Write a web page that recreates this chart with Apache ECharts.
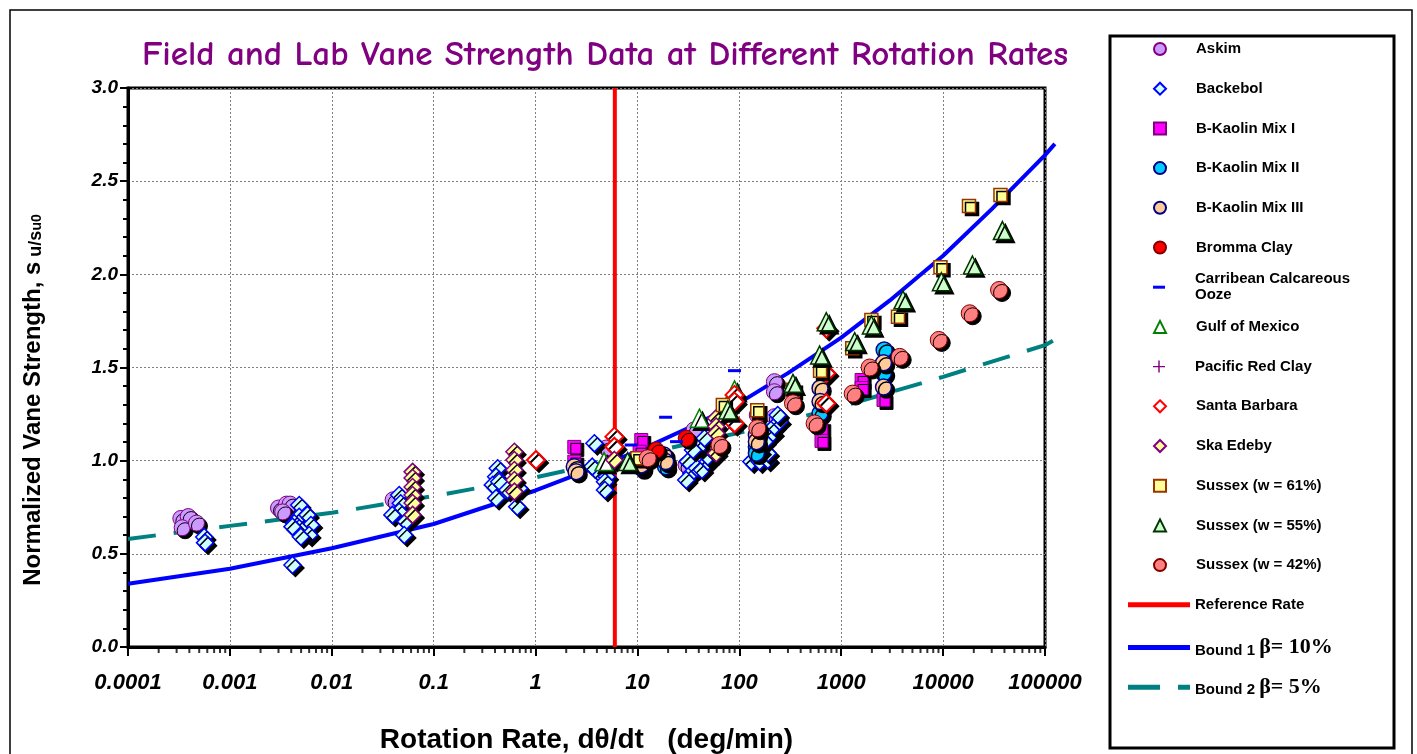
<!DOCTYPE html>
<html><head><meta charset="utf-8">
<script src="https://cdn.jsdelivr.net/npm/echarts@6.0.0/dist/echarts.min.js"></script>
<style>html,body{margin:0;padding:0;background:#fff}#c{width:1417px;height:754px}</style>
</head><body><div id="c"></div>
<script>
// ---------- tick labels ----------
const xTickLabels = ['0.0001','0.001','0.01','0.1','1','10','100','1000','10000','100000'];
const xDecades = [0.0001,0.001,0.01,0.1,1,10,100,1000,10000];
const xMinorMultipliers = [2,3,4,5,6,7,8,9];

// ---------- data: [rotation rate (deg/min), su/su0] ----------
const askim = [[0.00033,0.69],[0.00039,0.70],[0.00034,0.64],[0.00047,0.665],
  [0.0030,0.746],[0.0036,0.767],[0.0039,0.767],[0.0033,0.725],[0.040,0.79],
  [4.95,1.068],[36,1.165],[30,0.977],[221,1.424],[221,1.37],[150,1.245],[221,1.236]];
const backebol = [[0.00056,0.59],[0.00057,0.56],
  [0.00479,0.762],[0.00479,0.699],[0.00577,0.709],[0.00428,0.664],[0.00624,0.655],[0.00479,0.637],[0.00411,0.646],[0.0060,0.601],[0.00497,0.592],[0.00411,0.44],
  [0.0459,0.816],[0.0475,0.771],[0.0459,0.726],[0.0393,0.709],[0.0532,0.673],[0.0514,0.601],
  [0.425,0.959],[0.41,0.914],[0.38,0.87],[0.44,0.887],[0.41,0.798],[0.53,0.843],[0.69,0.852],[0.66,0.753],
  [3.78,1.093],[3.6,0.968],[4.4,0.923],[5.0,0.914],[4.8,0.887],[4.8,0.843],
  [31.2,0.995],[33.8,0.932],[30.1,0.896],[38.3,0.959],[42.9,0.95],[49,0.995],[49,1.021],[51,1.067],[40.5,1.075],[45.5,1.12],[35.1,1.057],
  [131,0.995],[158,0.995],[190,1.004],[190,1.04],[212,1.147],[221,1.183],[248,1.21],[238,1.245],[177,1.102],[158,1.048]];
const kaolin1 = [[2.4,1.074],[2.4,0.995],[10.9,1.111],[10.5,1.048],[637,1.174],[640,1.106],[1585,1.433],[1585,1.39],[2600,1.326]];
const kaolin2 = [[11,0.96],[18.9,0.968],[147,1.075],[147,1.04],[620,1.254],[2640,1.594],[2600,1.47]];
const kaolin3 = [[2.4,0.968],[2.5,0.941],[10.9,0.977],[18.2,1.03],[18.9,0.995],[147,1.138],[147,1.102],[620,1.389],[620,1.317],[2600,1.525],[2600,1.395]];
const bromma = [[15.3,1.057],[30.1,1.12]];
const carribean = [[8.67,1.084],[18.9,1.233],[24.2,1.102],[89.7,1.483]];
const gulf = [[4.7,0.995],[40.6,1.228],[89.7,1.38]];
const pacific = [[89.7,1.174]];
const santaBarbara = [[1.01,1.004],[5.94,1.129],[5.94,1.075],[89.7,1.353],[89.7,1.317],[89.7,1.201],[713,1.71],[713,1.469],[713,1.308]];
const skaEdeby = [[0.0621,0.94],[0.0621,0.907],[0.0621,0.859],[0.0621,0.816],[0.0621,0.773],[0.0621,0.709],
  [0.62,1.048],[0.62,1.004],[0.62,0.95],[0.62,0.896],[0.62,0.834],[5.94,1.004],
  [59.3,1.228],[59.3,1.183],[59.3,1.147],[59.3,1.04]];
const sussex61 = [[10,1.013],[68.9,1.299],[150,1.27],[336,1.38],[620,1.483],[1283,1.603],[1977,1.755],[3606,1.773],[9420,2.038],[17950,2.367],[36560,2.426]];
const sussex55 = [[8.0,0.995],[77,1.272],[336,1.415],[614,1.567],[713,1.746],[1355,1.639],[1977,1.728],[4036,1.863],[9620,1.96],[19400,2.05],[38200,2.235]];
const sussex42 = [[12.6,1.013],[63.8,1.084],[150,1.174],[336,1.308],[548,1.20],[1295,1.36],[1900,1.50],[3750,1.557],[9060,1.648],[18240,1.791],[35400,1.916]];

// reference rate and bounds
const refRateX = [6, 6];
const refRateY = [0, 3];
const bound1X = [0.0001,0.001,0.01,0.1,1,10,30,100,300,1000,3000,10000,30000,100000,125000];
const bound1Y = [0.34,0.42,0.53,0.66,0.84,1.05,1.17,1.31,1.47,1.66,1.86,2.10,2.35,2.64,2.70];
const bound2X = [0.0001,0.001,0.01,0.1,1,10,100,1000,10000,100000,125000];
const bound2Y = [0.58,0.65,0.72,0.81,0.91,1.03,1.15,1.29,1.45,1.62,1.65];

const legendNames = ['Askim','Backebol','B-Kaolin Mix I','B-Kaolin Mix II','B-Kaolin Mix III','Bromma Clay',
  'Carribean Calcareous Ooze','Gulf of Mexico','Pacific Red Clay','Santa Barbara','Ska Edeby',
  'Sussex (w = 61%)','Sussex (w = 55%)','Sussex (w = 42%)','Reference Rate','Bound 1','Bound 2'];

// ---------- build ----------
const zip = (xs, ys) => xs.map((x, i) => [x, ys[i]]);
const ARIAL = '"Liberation Sans", Arial, sans-serif';
const SHADOW = {shadowColor:'#000', shadowOffsetX:3, shadowOffsetY:3, shadowBlur:0};
const PLUS = 'path://M4.4,0H5.6V4.4H10V5.6H5.6V10H4.4V5.6H0V4.4H4.4Z';

// the bound curves run a little past the last axis label (as in the original); they use a twin
// log axis whose extent reaches the last curve point, with the same px-per-decade as the main one
const X_MIN = 0.0001, X_MAX = 100000;
const X_EXT = Math.max(bound1X[bound1X.length - 1], bound2X[bound2X.length - 1]);
const PLOT_L = 128, PLOT_R = 1045;
const extPx = (PLOT_R - PLOT_L) * Math.log10(X_EXT / X_MIN) / Math.log10(X_MAX / X_MIN);

function sc(name, data, symbol, size, fill, stroke, bw, shadow) {
  return {name, type:'scatter', data, symbol, symbolSize:size, z:3, clip:false,
    itemStyle:Object.assign({color:fill, borderColor:stroke, borderWidth:bw, opacity:1}, shadow === false ? {} : SHADOW),
    emphasis:{disabled:true}};
}
function ln(name, data, color, dash, idx) {
  return {name, type:'line', data, symbol:'none', showSymbol:false, z:2, clip:false, color,
    xAxisIndex:idx || 0, yAxisIndex:idx || 0,
    lineStyle:{color, width:4, type: dash || 'solid', cap:'butt'}, emphasis:{disabled:true}, smooth:false};
}

const minorTickData = [];
xDecades.forEach(d => xMinorMultipliers.forEach(m => minorTickData.push([d * m, 0])));

const series = [
  sc('Askim', askim, 'circle', 16, '#cc99ff', '#800080', 1),
  sc('Backebol', backebol, 'diamond', 17, '#ccffff', '#0000ff', 1.5),
  sc('B-Kaolin Mix I', kaolin1, 'rect', 13, '#ff00ff', '#800080', 1),
  sc('B-Kaolin Mix II', kaolin2, 'circle', 16, '#00ccff', '#000080', 1.5),
  sc('B-Kaolin Mix III', kaolin3, 'circle', 16, '#ffcc99', '#000080', 1.5),
  sc('Bromma Clay', bromma, 'circle', 16, '#ff0000', '#800000', 1),
  sc('Carribean Calcareous Ooze', carribean, 'rect', [13,3], '#0000ff', '#0000ff', 0, false),
  sc('Gulf of Mexico', gulf, 'triangle', 18, '#ffffff', '#008000', 1.5),
  sc('Pacific Red Clay', pacific, PLUS, 13, '#800080', '#800080', 0, false),
  sc('Santa Barbara', santaBarbara, 'diamond', 18, '#ffffff', '#ff0000', 2),
  sc('Ska Edeby', skaEdeby, 'diamond', 17, '#ffff99', '#800080', 1.5),
  sc('Sussex (w = 61%)', sussex61, 'rect', 13, '#ffff99', '#993300', 1.5),
  sc('Sussex (w = 55%)', sussex55, 'triangle', 18, '#ccffcc', '#003300', 1.5),
  sc('Sussex (w = 42%)', sussex42, 'circle', 17, '#ff8080', '#800000', 1),
  ln('Reference Rate', zip(refRateX, refRateY), '#ff0000'),
  ln('Bound 1', zip(bound1X, bound1Y), '#0000ff', null, 1),
  ln('Bound 2', zip(bound2X, bound2Y), '#008080', [28, 18], 1),
  {name:'__minor', type:'scatter', data:minorTickData, symbol:'rect', symbolSize:[2,6], symbolOffset:[0,3],
   itemStyle:{color:'#000'}, silent:true, z:5, clip:false, emphasis:{disabled:true}}
];

const ROW0 = 49, ROWSTEP = 39.7;
const baseText = {fontFamily:ARIAL, fontWeight:'bold', fontSize:15, color:'#000', lineHeight:16};
const legends = legendNames.map((n, i) => {
  const cy = ROW0 + i * ROWSTEP;
  const L = {show:true, data:[n], orient:'vertical', padding:0, selectedMode:false,
    itemStyle:{shadowBlur:0, shadowOffsetX:0, shadowOffsetY:0, shadowColor:'rgba(0,0,0,0)'},
    textStyle:Object.assign({}, baseText)};
  if (i < 14) {
    L.left = 1153; L.top = cy - 8; L.itemWidth = 12; L.itemHeight = 12;
    L.textStyle.padding = [0,0,0,25];
    if (n === 'Carribean Calcareous Ooze') {
      L.itemHeight = 3;
      L.symbolKeepAspect = false;
      L.data = [{name:n, icon:'rect'}];
      L.formatter = 'Carribean Calcareous\nOoze';
      L.textStyle.padding = [16,0,0,25];
      L.top = cy - 24;
    }
    if (n === 'Pacific Red Clay') { L.itemStyle.borderWidth = 0; }
  } else {
    L.left = 1128; L.top = cy - 8; L.itemWidth = 62; L.itemHeight = 5;
    L.symbolKeepAspect = false;
    L.itemStyle.borderWidth = 0;
    L.data = [{name:n, icon: n === 'Bound 2' ? 'path://M0,0H32V5H0ZM50,0H62V5H50Z' : 'rect'}];
    if (n !== 'Reference Rate') {
      const beta = n === 'Bound 1' ? 'β= 10%' : 'β= 5%';
      L.formatter = '{a|' + n + '} {b|' + beta + '}';
      L.textStyle.rich = {
        a:{fontFamily:ARIAL, fontWeight:'bold', fontSize:15, color:'#000', lineHeight:16, padding:[6,0,0,0]},
        b:{fontFamily:'"Liberation Serif", "Times New Roman", serif', fontSize:22, color:'#000', lineHeight:16}
      };
    }
  }
  return L;
});

const option = {
  animation:false,
  backgroundColor:'#ffffff',
  grid:[
    {left:PLOT_L, right:1417 - PLOT_R, top:88, bottom:107, show:true, borderColor:'#000', borderWidth:3,
     backgroundColor:'#fff', containLabel:false, outerBoundsMode:'none'},
    {left:PLOT_L, width:extPx, top:88, bottom:107, show:false, containLabel:false, outerBoundsMode:'none'}
  ],
  xAxis:[{type:'log', logBase:10, min:X_MIN, max:X_MAX, splitNumber:9,
    axisLine:{show:true, onZero:false, lineStyle:{color:'#000', width:3}},
    axisTick:{show:true, length:9, lineStyle:{color:'#000', width:2}},
    minorTick:{show:false},
    splitLine:{show:true, lineStyle:{color:'#7f7f7f', type:[2,2], width:1}},
    axisLabel:{formatter:v => xTickLabels[Math.round(Math.log10(v)) + 4], fontFamily:ARIAL, fontStyle:'italic',
      fontWeight:'bold', fontSize:22, color:'#000', margin:25, showMinLabel:true, showMaxLabel:true, hideOverlap:false},
    name:'Rotation Rate, dθ/dt   (deg/min)', nameLocation:'middle', nameGap:79,
    nameTextStyle:{fontFamily:ARIAL, fontWeight:'bold', fontSize:28, color:'#000'}},
    {type:'log', logBase:10, gridIndex:1, min:X_MIN, max:X_EXT, show:false,
     axisLine:{show:false}, axisTick:{show:false}, axisLabel:{show:false}, splitLine:{show:false}}],
  yAxis:[{type:'value', min:0, max:3, interval:0.5,
    axisLine:{show:true, lineStyle:{color:'#000', width:3}},
    axisTick:{show:true, length:8, lineStyle:{color:'#000', width:2}},
    minorTick:{show:true, splitNumber:5, length:5, lineStyle:{color:'#000', width:2}},
    splitLine:{show:true, lineStyle:{color:'#7f7f7f', type:[2,2], width:1}},
    minorSplitLine:{show:false},
    axisLabel:{formatter:v => v.toFixed(1), fontFamily:ARIAL, fontStyle:'italic', fontWeight:'bold', fontSize:19, color:'#000', margin:10}},
    {type:'value', gridIndex:1, min:0, max:3, interval:0.5, show:false,
     axisLine:{show:false}, axisTick:{show:false}, axisLabel:{show:false}, splitLine:{show:false}}],
  legend:legends,
  tooltip:{show:false},
  series,
  graphic:[
    {type:'rect', silent:true, z:-1, shape:{x:10, y:10, width:1402, height:780}, style:{fill:'none', stroke:'#000', lineWidth:1.5}},
    {type:'rect', silent:true, z:-1, shape:{x:1110, y:36, width:284, height:712}, style:{fill:'#fff', stroke:'#000', lineWidth:3}},
    {type:'text', silent:true, x:605, y:55, style:{text:'Field and Lab Vane Strength Data at Different Rotation Rates',
      font:'bold 35px "Comic Sans MS", "Comic Neue", Lato, sans-serif', fill:'#800080', align:'center', verticalAlign:'middle'}},
    {type:'text', silent:true, x:33, y:400, rotation:Math.PI / 2,
      style:{text:'{a|Normalized Vane Strength, s}{b| u/s}{c|u0}', align:'center', verticalAlign:'middle',
        rich:{
          a:{fontFamily:ARIAL, fontWeight:'bold', fontSize:24, fill:'#000'},
          b:{fontFamily:ARIAL, fontWeight:'bold', fontSize:18, fill:'#000', padding:[6,0,0,0]},
          c:{fontFamily:ARIAL, fontWeight:'bold', fontSize:14, fill:'#000', padding:[9,0,0,0]}}}}
  ]
};
const chart = echarts.init(document.getElementById('c'));
chart.setOption(option);
</script></body></html>
